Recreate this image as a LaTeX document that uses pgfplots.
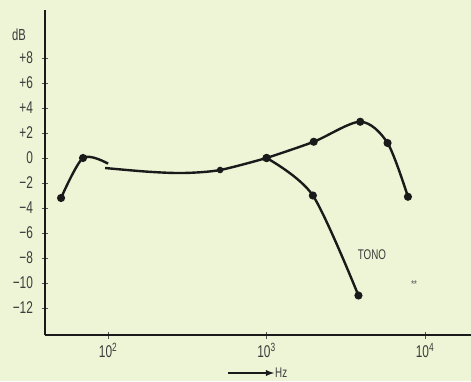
\documentclass[border=0pt]{standalone}
\usepackage{pgfplots}
\pgfplotsset{compat=1.18}
\usepackage{fontspec}
\setmainfont{Liberation Sans}[FakeStretch=0.7]
\definecolor{bg}{HTML}{EEF4D6}
\definecolor{ink}{HTML}{1A1A1A}
\begin{document}
\begin{tikzpicture}[x=1pt,y=1pt]
\fill[bg] (0,0) rectangle (471,381);
\begin{axis}[
  at={(45pt,46pt)}, anchor=south west,
  scale only axis, width=426pt, height=325pt,
  xmode=log, xmin=40, xmax=19500,
  ymin=-14.16, ymax=11.84,
  axis lines=left,
  axis line style={ink, line width=1.4pt, -},
  xtick={100,1000,10000},
  xticklabels={10\textsuperscript{2},10\textsuperscript{3},10\textsuperscript{4}},
  ytick={-12,-10,-8,-6,-4,-2,0,2,4,6,8},
  yticklabels={−12,−10,−8,−6,−4,−2,0,+2,+4,+6,+8},
  minor xtick={},
  tick align=center, major tick length=7pt,
  tick style={ink!75, line width=0.8pt},
  every tick label/.append style={font=\fontsize{17}{17}\selectfont, text=ink!85},
  yticklabel style={xshift=-5pt},
  xticklabel style={yshift=-1pt},
  clip=false,
]
\addplot[ink, line width=2.4pt, smooth, mark=*, mark size=2.8pt, mark indices={1,2}]
  coordinates {(50.5,-3.2) (69.5,0) (100,-0.45)};
\addplot[ink, line width=2.4pt, smooth, mark=*, mark size=2pt, mark indices={4}]
  coordinates {(95.7,-0.8) (180,-1.1) (300,-1.2) (509,-0.96) (1000,0)};
\addplot[ink, line width=2.4pt, smooth, mark=*, mark size=2.8pt]
  coordinates {(1000,0) (1985,1.3) (3900,2.9) (5800,1.2) (7800,-3.1)};
\addplot[ink, line width=2.4pt, smooth, mark=*, mark size=2.8pt]
  coordinates {(1000,0) (1960,-3.0) (3800,-11.0)};
\end{axis}
\node[text=ink!85, font=\fontsize{16}{16}\selectfont] at (19,346) {dB};
\node[text=ink!85, font=\fontsize{14}{14}\selectfont] at (372,126) {TONO};
\node[text=ink!60, font=\fontsize{10}{10}\selectfont\bfseries] at (414,97) {**};
\draw[ink, line width=1.8pt, -latex] (228,8) -- (274,8);
\node[text=ink!85, font=\fontsize{14}{14}\selectfont, anchor=west, inner sep=1pt] at (274,8.5) {Hz};
\pgfresetboundingbox
\useasboundingbox (0,0) rectangle (471,381);
\end{tikzpicture}
\end{document}
